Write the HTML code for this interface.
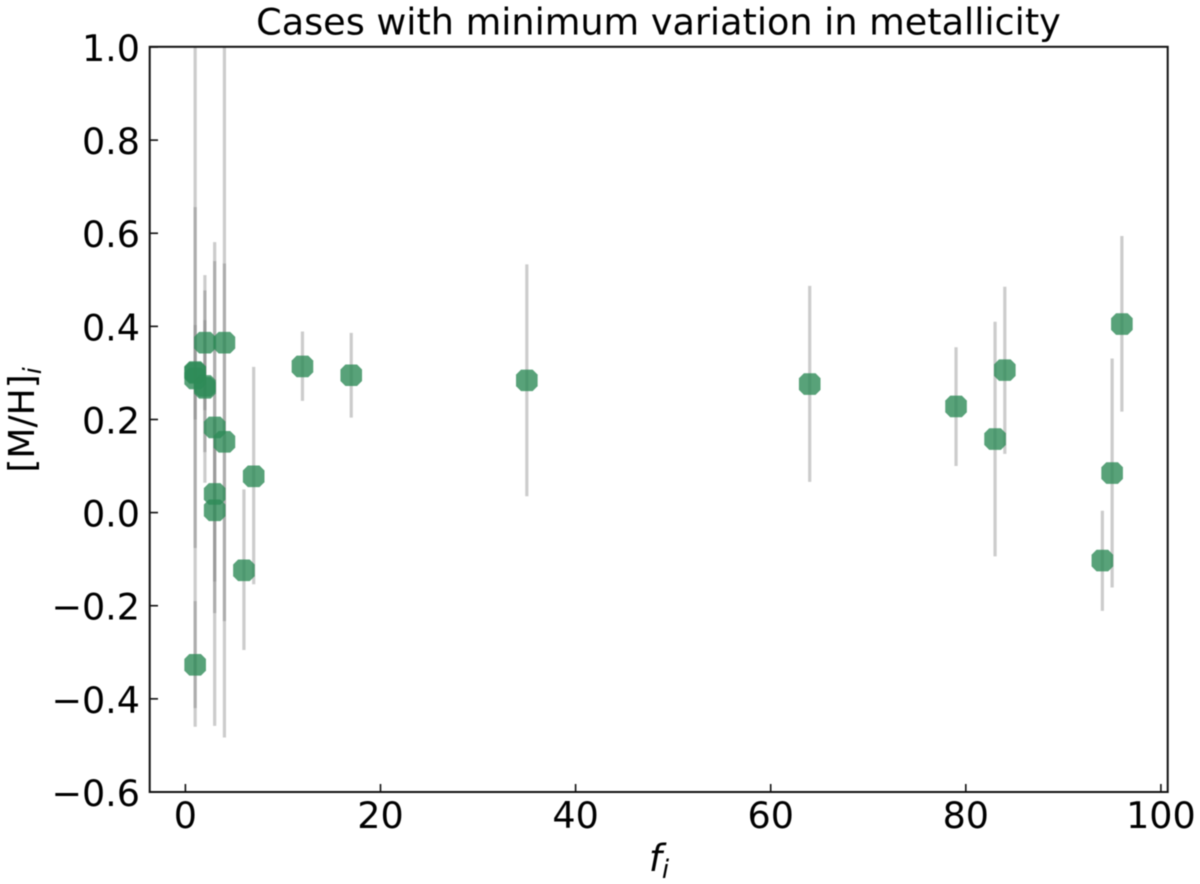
<!DOCTYPE html>
<html>
<head>
<meta charset="utf-8">
<title>Cases with minimum variation in metallicity</title>
<style>
html,body{margin:0;padding:0;background:#fff;}
svg{display:block;filter:blur(0.5px);}
text{font-family:"DejaVu Sans","Liberation Sans",sans-serif;fill:#000;}
</style>
</head>
<body>
<svg id="chart" width="1200" height="884" viewBox="0 0 1200 884" xmlns="http://www.w3.org/2000/svg">
  <defs><clipPath id="plot-clip"><rect x="150" y="47" width="1018" height="745"/></clipPath></defs>
  <rect x="0" y="0" width="1200" height="884" fill="#fff"/>
  <g id="bars" clip-path="url(#plot-clip)"></g>
  <g id="points" clip-path="url(#plot-clip)"></g>
  <g id="ticks"></g>
  <rect x="149.7" y="46.8" width="1018" height="745.2" fill="none" stroke="#111" stroke-width="2"/>
  <text x="658.5" y="34.5" font-size="36.6" text-anchor="middle">Cases with minimum variation in metallicity</text>
  <text x="659" y="871" font-size="37" text-anchor="middle" font-style="italic">f<tspan font-size="26" dy="7">i</tspan></text>
  <text transform="translate(34,420) rotate(-90)" font-size="36" text-anchor="middle">[M/H]<tspan font-size="25" dy="7" font-style="italic">i</tspan></text>
</svg>
<script>
const fValues = [1, 1, 1, 1, 2, 2, 2, 3, 3, 3, 4, 4, 6, 7, 12, 17, 35, 64, 79, 83, 84, 94, 95, 96];
const mhValues = [0.302, 0.300, 0.288, -0.327, 0.365, 0.272, 0.268, 0.183, 0.040, 0.005, 0.365, 0.152, -0.124, 0.078, 0.314, 0.295, 0.284, 0.276, 0.228, 0.158, 0.306, -0.103, 0.085, 0.405];
const mhUpper = [1.25, 0.656, 0.403, -0.19, 0.51, 0.477, 0.413, 0.581, 0.54, 0.2, 1.25, 0.535, 0.05, 0.313, 0.389, 0.386, 0.533, 0.487, 0.355, 0.41, 0.485, 0.004, 0.331, 0.594];
const mhLower = [-0.46, -0.076, 0.2, -0.42, 0.22, 0.064, 0.13, -0.216, -0.458, -0.148, -0.483, -0.233, -0.295, -0.154, 0.24, 0.204, 0.035, 0.066, 0.10, -0.094, 0.126, -0.211, -0.161, 0.217];
const xTickValues = [0, 20, 40, 60, 80, 100];
const yTickValues = [1.0, 0.8, 0.6, 0.4, 0.2, 0.0, -0.2, -0.4, -0.6];

const NS = 'http://www.w3.org/2000/svg';
function xScale(v){ return 185.4 + v * 9.755; }
function yScale(v){ return 512.6 - v * 465.6; }
function make(tag, attrs){
  const el = document.createElementNS(NS, tag);
  for (const k in attrs) el.setAttribute(k, attrs[k]);
  return el;
}
function octagon(cx, cy){
  const h = 10.8, c = 5;
  return [
    [cx-h+c, cy-h], [cx+h-c, cy-h], [cx+h, cy-h+c], [cx+h, cy+h-c],
    [cx+h-c, cy+h], [cx-h+c, cy+h], [cx-h, cy+h-c], [cx-h, cy-h+c]
  ].map(function(p){ return p[0] + ',' + p[1]; }).join(' ');
}
const barsG = document.getElementById('bars');
const pointsG = document.getElementById('points');
const ticksG = document.getElementById('ticks');

fValues.forEach(function(f, i){
  const bar = make('line', {x1:xScale(f), x2:xScale(f), y1:yScale(mhUpper[i]), y2:yScale(mhLower[i]), stroke:'#808080', 'stroke-opacity':0.4, 'stroke-width':3.2});
  
  
  barsG.appendChild(bar);
  const pt = make('polygon', {points:octagon(xScale(f), yScale(mhValues[i])), fill:'#2e8b57', 'fill-opacity':0.8});
  
  
  pointsG.appendChild(pt);
});

xTickValues.forEach(function(v){
  const px = xScale(v);
  const t = make('line', {x1:px, x2:px, y1:784, y2:792, stroke:'#111', 'stroke-width':1.6});
  
  
  ticksG.appendChild(t);
  const l = make('text', {x:px, y:828, 'font-size':36.5, 'text-anchor':'middle'});
  l.textContent = String(v);
  
  
  ticksG.appendChild(l);
});
yTickValues.forEach(function(v){
  const py = yScale(v);
  const t = make('line', {x1:150, x2:158, y1:py, y2:py, stroke:'#111', 'stroke-width':1.6});
  
  
  ticksG.appendChild(t);
  const l = make('text', {x:140, y:py+14, 'font-size':36.5, 'text-anchor':'end'});
  l.textContent = (v < 0 ? '\u2212' : '') + Math.abs(v).toFixed(1);
  
  
  ticksG.appendChild(l);
});
</script>
</body>
</html>
